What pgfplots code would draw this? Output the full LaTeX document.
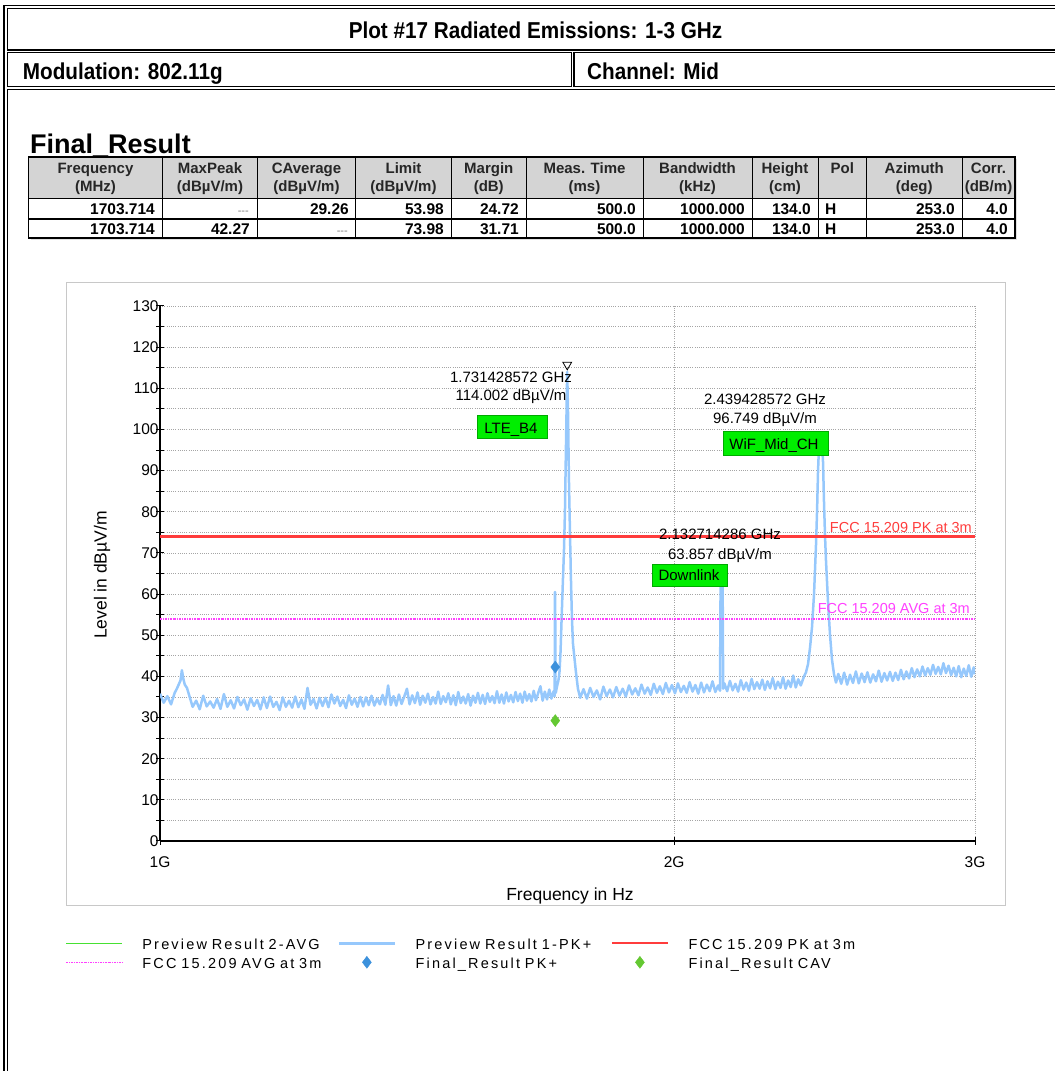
\documentclass[border=0pt]{standalone}
\usepackage{fontspec}
\setmainfont{Liberation Sans}
\newfontfamily\hdrfont[FakeStretch=0.9]{Liberation Sans}
\newfontfamily\lgdfont[LetterSpace=15]{Liberation Sans}
\usepackage{pgfplots}
\pgfplotsset{compat=1.18}
\newcommand\fs[1]{\fontsize{#1bp}{#1bp}\selectfont}
\definecolor{traceblue}{RGB}{150,200,252}
\definecolor{limred}{RGB}{255,60,60}
\definecolor{limmag}{RGB}{255,64,255}
\definecolor{diamblue}{RGB}{60,145,220}
\definecolor{diamgreen}{RGB}{100,200,50}
\definecolor{avggreen}{RGB}{70,225,50}
\definecolor{boxgreen}{RGB}{0,238,0}
\definecolor{boxedge}{RGB}{0,170,0}
\definecolor{hdrgray}{RGB}{212,212,212}
\definecolor{gridgray}{RGB}{165,165,165}
\definecolor{panelgray}{RGB}{200,200,200}
\newcommand\hcell[3]{%
  \node[anchor=base,inner sep=0pt,font=\bfseries\fs{15},text=black!85] at (#1,897.7) {#2};%
  \node[anchor=base,inner sep=0pt,font=\bfseries\fs{15},text=black!85] at (#1,879.5) {#3};}
\newcommand\dcell[3]{\node[anchor=base east,inner sep=0pt,font=\bfseries\fs{15.5}] at (#1,#2) {#3};}
\newcommand\ncell[2]{\node[anchor=base east,inner sep=0pt,font=\fs{11},text=gray] at (#1,#2) {-{}-{}-};}
\begin{document}
\begin{tikzpicture}
\path[use as bounding box] (0,0) rectangle (1055bp,1071bp);
\begin{scope}[x=1bp,y=1bp]
% frame
\draw[line width=1.4bp] (4,-20) -- (4,1065.5) -- (1100,1065.5);
\draw[line width=1.3bp] (7.3,1021) rectangle (1100,1062.3);
\draw[line width=1.3bp] (7.3,984.3) rectangle (571.5,1018.3);
\draw[line width=1.3bp] (574,984.3) rectangle (1100,1018.3);
\draw[line width=1.3bp] (7.3,-20) rectangle (1100,981.7);
\node[anchor=base,inner sep=0pt,font=\hdrfont\bfseries\fs{23}] at (535.5,1032.7) {Plot \#17 Radiated Emissions: 1-3 GHz};
\node[anchor=base west,inner sep=0pt,font=\hdrfont\bfseries\fs{23}] at (22.7,991.7) {Modulation: 802.11g};
\node[anchor=base west,inner sep=0pt,font=\hdrfont\bfseries\fs{23}] at (587,991.7) {Channel: Mid};
% Final_Result table
\node[anchor=base west,inner sep=0pt,font=\bfseries\fs{27}] at (30,917.7) {Final\_Result};
\fill[black!12] (30.5,831) rectangle (1017,912);
\fill[hdrgray] (28.5,872) rectangle (1015,914);
\fill[white] (28.5,833) rectangle (1015,872);
\draw[line width=1.1bp] (28.5,833) rectangle (1015,914);
\draw[line width=1bp] (28.5,872) -- (1015,872);
\draw[line width=1.4bp] (28.5,852) -- (1015,852);
\foreach \c in {162.5,257.5,355.5,451.5,526,643,752,818,866.5,962}
  \draw[line width=1bp] (\c,833) -- (\c,914);
\hcell{95.5}{Frequency}{(MHz)}
\hcell{210}{MaxPeak}{(dBµV/m)}
\hcell{306.5}{CAverage}{(dBµV/m)}
\hcell{403.5}{Limit}{(dBµV/m)}
\hcell{488.75}{Margin}{(dB)}
\hcell{584.5}{Meas. Time}{(ms)}
\hcell{697.5}{Bandwidth}{(kHz)}
\hcell{785}{Height}{(cm)}
\hcell{842.25}{Pol}{}
\hcell{914.25}{Azimuth}{(deg)}
\hcell{988.5}{Corr.}{(dB/m)}
\dcell{155}{856.7}{1703.714}
\ncell{249}{856.7}
\dcell{349}{856.7}{29.26}
\dcell{444}{856.7}{53.98}
\dcell{519}{856.7}{24.72}
\dcell{636}{856.7}{500.0}
\dcell{745}{856.7}{1000.000}
\dcell{811}{856.7}{134.0}
\node[anchor=base west,inner sep=0pt,font=\bfseries\fs{15.5}] at (825,856.7) {H};
\dcell{955}{856.7}{253.0}
\dcell{1008}{856.7}{4.0}
\dcell{155}{836.7}{1703.714}
\dcell{250}{836.7}{42.27}
\ncell{348}{836.7}
\dcell{444}{836.7}{73.98}
\dcell{519}{836.7}{31.71}
\dcell{636}{836.7}{500.0}
\dcell{745}{836.7}{1000.000}
\dcell{811}{836.7}{134.0}
\node[anchor=base west,inner sep=0pt,font=\bfseries\fs{15.5}] at (825,836.7) {H};
\dcell{955}{836.7}{253.0}
\dcell{1008}{836.7}{4.0}
% chart panel
\draw[panelgray, line width=1.6bp] (66.5,165.5) rectangle (1005.5,788.5);
\end{scope}
\begin{axis}[
  at={(160bp,230bp)}, anchor=south west,
  width=815bp, height=535bp, scale only axis,
  xmode=log, xmin=1, xmax=3, ymin=0, ymax=130,
  xtick={1,2,3}, xticklabels={1G,2G,3G}, minor xtick={},
  ytick={0,10,...,130}, minor ytick={5,15,...,125},
  axis x line=bottom, axis y line=left,
  axis line style={-, line width=1.3bp, black},
  xmajorgrids=true, ymajorgrids=true, yminorgrids=true,
  major grid style={gridgray, line width=0.8bp, dash pattern=on 1bp off 1.2bp},
  minor grid style={gridgray, line width=0.8bp, dash pattern=on 1bp off 1.2bp},
  tick align=center, major tick length=8bp, minor tick length=8bp,
  tick style={black, line width=1bp},
  /pgf/number format/assume math mode=true,
  yticklabel style={font=\fs{15.5}, xshift=6bp},
  xticklabel style={font=\fs{15.5}, yshift=-8bp},
  legend columns=3,
  legend cell align=left,
  legend image code/.code={\draw[#1,mark repeat=2,mark phase=2] plot coordinates {(0bp,1bp) (28bp,1bp) (56bp,1bp)};},
  legend style={at={(-0.1162,-0.17813)}, anchor=north west, draw=none, fill=none,
    inner sep=0pt, outer sep=0pt, row sep=3bp, column sep=0pt,
    font=\lgdfont\fs{14.5},
    nodes={inner sep=0pt, text width=180bp, text height=13bp, text depth=3bp},
    /tikz/every odd column/.append style={column sep=19.5bp},
    /tikz/every even column/.append style={column sep=15.2bp}},
]
\addlegendimage{legend image code/.code={\draw[avggreen, line width=1.3bp] (0bp,1bp) -- (56bp,1bp);}}
\addlegendentry{Preview Result 2-AVG}
\addplot[color=traceblue, line width=2.5bp, line join=round] coordinates {
(1.000,35.8) (1.005,33.6) (1.010,35.2) (1.015,33.2) (1.020,36.0) (1.023,37.0) (1.026,38.2) (1.028,39.0) (1.030,41.5) (1.032,39.4) (1.034,38.0) (1.037,37.2) (1.040,35.5)
(1.045,32.6) (1.050,34.1) (1.055,32.0) (1.060,35.3) (1.065,32.7) (1.070,33.9) (1.075,32.4) (1.080,34.5) (1.085,32.1) (1.090,35.7) (1.095,32.6) (1.100,34.2)
(1.105,32.2) (1.110,35.0) (1.115,33.0) (1.120,34.4) (1.125,31.9) (1.130,34.7) (1.135,32.8) (1.140,34.3) (1.145,32.0) (1.150,34.9) (1.155,32.3) (1.160,35.1)
(1.165,32.6) (1.170,33.8) (1.175,31.8) (1.180,34.9) (1.185,32.6) (1.190,34.1) (1.195,32.4) (1.200,35.1) (1.205,32.5) (1.210,34.4) (1.215,32.1) (1.220,37.2)
(1.225,33.1) (1.230,34.5) (1.235,32.2) (1.240,34.8) (1.245,32.8) (1.250,34.8) (1.255,32.5) (1.260,35.6) (1.265,33.4) (1.270,35.1) (1.275,32.8) (1.280,34.3)
(1.285,32.3) (1.290,35.4) (1.295,33.1) (1.300,34.6) (1.305,32.6) (1.310,35.0) (1.315,32.7) (1.320,34.9) (1.325,33.0) (1.330,35.3) (1.335,32.9) (1.340,34.6)
(1.345,33.2) (1.350,35.5) (1.355,33.1) (1.360,37.8) (1.365,33.0) (1.370,35.2) (1.375,32.9) (1.380,35.6) (1.385,33.3) (1.390,35.1) (1.395,37.0) (1.400,33.2)
(1.405,35.4) (1.410,33.5) (1.415,36.1) (1.420,33.1) (1.425,35.3) (1.430,33.6) (1.435,35.8) (1.440,33.2) (1.445,35.0) (1.450,33.4) (1.455,36.3) (1.460,33.3)
(1.465,35.2) (1.470,33.7) (1.475,35.9) (1.480,33.2) (1.485,35.4) (1.490,33.0) (1.495,36.2) (1.500,33.5) (1.505,35.1) (1.510,33.4) (1.515,35.7) (1.520,32.9)
(1.525,35.3) (1.530,33.6) (1.535,36.0) (1.540,33.4) (1.545,35.5) (1.550,33.3) (1.555,35.9) (1.560,33.8) (1.565,35.2) (1.570,33.5) (1.575,36.4) (1.580,33.6)
(1.585,35.6) (1.590,33.4) (1.595,36.1) (1.600,33.9) (1.605,35.5) (1.610,33.7) (1.615,36.2) (1.620,34.0) (1.625,35.8) (1.630,33.6) (1.635,36.3) (1.640,34.1)
(1.645,35.7) (1.650,33.9) (1.655,36.5) (1.660,34.2) (1.665,35.9) (1.670,37.6) (1.675,34.1) (1.680,36.3) (1.685,34.4) (1.690,36.8) (1.695,34.6) (1.700,36.4)
(1.7025,35.2) (1.7030,60.5) (1.7036,60.5) (1.7042,37.0) (1.7050,36.0) (1.7076,37.5) (1.7110,39.0) (1.7135,41.0) (1.7160,46.0) (1.7185,54.0) (1.7210,62.0)
(1.7238,70.0) (1.7262,80.0) (1.7285,95.0) (1.7314,114.0) (1.7332,105.0) (1.7355,88.0) (1.7379,75.0) (1.7402,64.0) (1.7426,54.0) (1.7449,48.0) (1.7480,45.0)
(1.7520,41.0) (1.7567,37.0)
(1.762,34.8) (1.770,36.9) (1.778,34.6) (1.786,37.2) (1.794,35.0) (1.802,36.6) (1.810,34.4) (1.818,37.5) (1.826,35.2) (1.834,36.8) (1.842,34.9) (1.850,37.4)
(1.858,35.3) (1.866,37.0) (1.874,35.1) (1.882,37.8) (1.890,35.6) (1.898,37.1) (1.906,35.4) (1.914,38.0) (1.922,35.8) (1.930,37.3) (1.938,35.5) (1.946,38.2)
(1.954,36.0) (1.962,37.6) (1.970,35.7) (1.978,38.4) (1.986,36.1) (1.994,37.9) (2.002,35.9) (2.010,38.3) (2.018,36.2) (2.026,37.7) (2.034,36.0) (2.042,38.6)
(2.050,36.3) (2.058,37.9) (2.066,35.8) (2.074,38.5) (2.082,36.1) (2.090,38.0) (2.098,36.4) (2.106,38.8) (2.114,36.2) (2.122,37.8)
(2.1274,36.5) (2.1290,62.0) (2.1303,63.86) (2.1332,63.0) (2.1350,61.5) (2.1365,37.0) (2.140,38.3)
(2.148,36.4) (2.156,38.9) (2.164,36.6) (2.172,38.2) (2.180,36.3) (2.188,39.1) (2.196,36.8) (2.204,38.5) (2.212,36.5) (2.220,39.4) (2.228,36.9) (2.236,38.6)
(2.244,37.0) (2.252,39.2) (2.260,36.7) (2.268,38.8) (2.276,37.1) (2.284,39.6) (2.292,36.9) (2.300,38.7) (2.308,37.2) (2.316,39.8) (2.324,37.0) (2.332,39.0)
(2.340,37.4) (2.348,40.2) (2.356,37.3) (2.364,39.3) (2.372,37.8)
(2.3825,40.0) (2.3889,41.0) (2.3954,43.0) (2.4018,47.0) (2.4083,52.0) (2.4148,60.0) (2.4213,72.0) (2.4246,80.0) (2.4279,90.0) (2.4312,96.2) (2.4344,96.7)
(2.4377,96.5) (2.4410,96.7) (2.4443,92.0) (2.4476,82.0) (2.4509,74.0) (2.4542,68.0) (2.4608,58.0) (2.4675,50.0) (2.4741,44.0) (2.4808,40.5) (2.4875,38.5)
(2.495,40.6) (2.505,38.2) (2.515,40.9) (2.525,38.0) (2.535,40.4) (2.545,38.4) (2.555,41.2) (2.565,38.3) (2.575,40.7) (2.585,38.6) (2.595,41.0) (2.605,38.5)
(2.615,40.5) (2.625,38.8) (2.635,41.4) (2.645,38.7) (2.655,40.8) (2.665,39.0) (2.675,41.1) (2.685,38.9) (2.695,40.9) (2.705,39.1) (2.715,41.6) (2.725,39.3)
(2.735,41.2) (2.745,39.5) (2.755,42.0) (2.765,39.8) (2.775,41.7) (2.785,40.0) (2.795,42.4) (2.805,40.2) (2.815,42.0) (2.825,40.4) (2.835,42.8) (2.845,40.6)
(2.855,42.3) (2.865,40.5) (2.875,43.2) (2.885,40.8) (2.895,42.6) (2.905,40.3) (2.915,42.1) (2.925,40.0) (2.935,42.5) (2.945,39.8) (2.955,41.9) (2.965,40.1)
(2.975,42.7) (2.985,39.9) (2.995,42.2) (3.000,40.5)
};
\addlegendentry{Preview Result 1-PK+}
\addplot[color=limred, line width=2.2bp] coordinates {(1,74) (3,74)};
\addlegendentry{FCC 15.209 PK at 3m}
\addplot[color=limmag, line width=1.6bp, dash pattern=on 2bp off 1bp on 0.8bp off 1bp] coordinates {(1,54) (3,54)};
\addlegendentry{FCC 15.209 AVG at 3m}
\addplot[only marks, mark=diamond*, mark size=6bp, color=diamblue] coordinates {(1.703714,42.27)};
\addlegendentry{Final\_Result PK+}
\addplot[only marks, mark=diamond*, mark size=6bp, color=diamgreen] coordinates {(1.703714,29.26)};
\addlegendentry{Final\_Result CAV}
\addplot[forget plot, only marks, mark=triangle, mark size=5bp, mark options={rotate=180, fill=white, draw=black, line width=0.8bp}] coordinates {(1.731428572,115.7)};
\end{axis}
\begin{scope}[x=1bp,y=1bp]
\node[anchor=base,inner sep=0pt,font=\fs{15}] at (511,688.7) {1.731428572 GHz};
\node[anchor=base,inner sep=0pt,font=\fs{15}] at (511,670.3) {114.002 dBµV/m};
\node[anchor=base,inner sep=0pt,font=\fs{15}] at (765,666.7) {2.439428572 GHz};
\node[anchor=base,inner sep=0pt,font=\fs{15}] at (765,647.7) {96.749 dBµV/m};
\node[anchor=base,inner sep=0pt,font=\fs{15}] at (720,531) {2.132714286 GHz};
\node[anchor=base,inner sep=0pt,font=\fs{15}] at (720,511.7) {63.857 dBµV/m};
\draw[boxedge, fill=boxgreen, line width=0.8bp] (477,633) rectangle (547,656);
\node[anchor=base,inner sep=0pt,font=\fs{15}] at (511,637.7) {LTE\_B4};
\draw[boxedge, fill=boxgreen, line width=0.8bp] (723,616) rectangle (828,639.3);
\node[anchor=base,inner sep=0pt,font=\fs{15}] at (774,621.7) {WiF\_Mid\_CH};
\draw[boxedge, fill=boxgreen, line width=0.8bp] (652,484.3) rectangle (727.7,507);
\node[anchor=base,inner sep=0pt,font=\fs{15}] at (689,490) {Downlink};
\node[anchor=base east,inner sep=0pt,font=\fs{14.5},text=limred] at (972,538.3) {FCC 15.209 PK at 3m};
\node[anchor=base east,inner sep=0pt,font=\fs{14.5},text=limmag] at (970,457) {FCC 15.209 AVG at 3m};
\node[rotate=90,inner sep=0pt,font=\fs{17.5}] at (102,496) {Level in dBµV/m};
\node[anchor=base,inner sep=0pt,font=\fs{17.5}] at (570,171) {Frequency in Hz};
\end{scope}
\end{tikzpicture}
\end{document}
